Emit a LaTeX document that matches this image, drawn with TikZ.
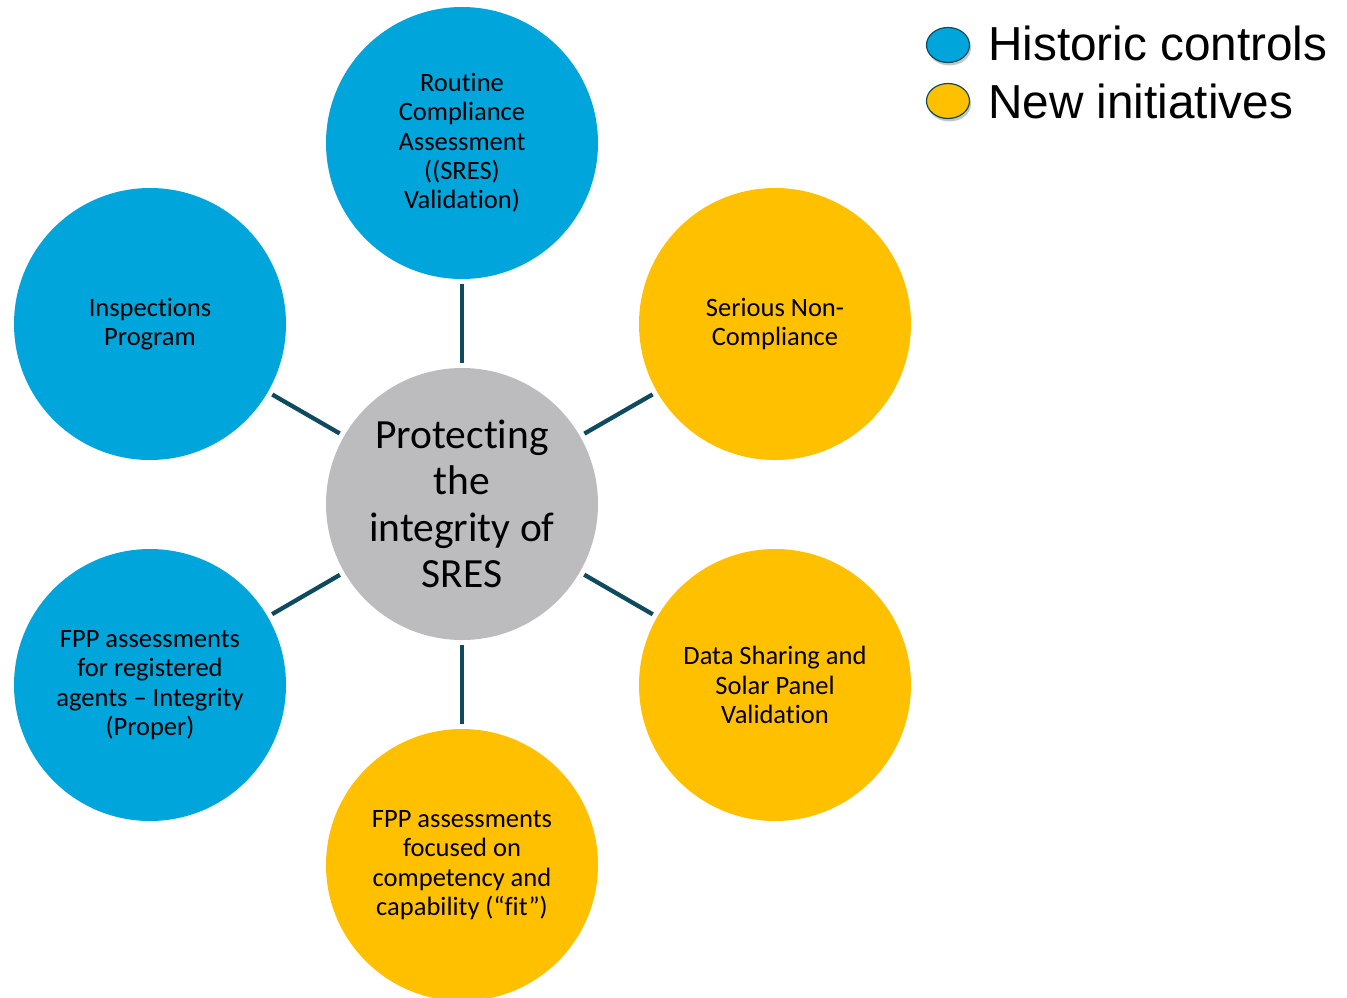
\documentclass[tikz,border=0pt]{standalone}
\usepackage{fontspec}
\setmainfont{Carlito}[Ligatures={NoCommon}]
\newfontfamily\legendfont{Liberation Sans}
\usetikzlibrary{shadows,shapes.geometric}
\definecolor{cblue}{HTML}{00A6DB}
\definecolor{cyellow}{HTML}{FFC000}
\definecolor{cgrey}{HTML}{BCBCBE}
\definecolor{cline}{HTML}{0E4B5E}
\begin{document}
\begin{tikzpicture}[x=1pt,y=-1pt,
  bubble/.style={circle,minimum size=272pt,inner sep=0pt,align=center,
    font=\fontsize{26.5}{29.3}\selectfont},
  blue/.style={bubble,fill=cblue},
  yellow/.style={bubble,fill=cyellow},
  link/.style={draw=cline,line width=4.3pt,shorten <=5pt,shorten >=5pt},
  legdot/.style={ellipse,minimum width=43pt,minimum height=35pt,draw=cline,line width=1.2pt,
    drop shadow={shadow xshift=1.5pt,shadow yshift=-3pt,fill=black!45}},
  legtext/.style={anchor=base west,inner sep=0pt,font=\legendfont\fontsize{47.7}{50}\selectfont}
]
\useasboundingbox (0,0) rectangle (1347,997);
\node[bubble,fill=cgrey,font=\fontsize{41.5}{46.5}\selectfont] (c) at (462,504) {Protecting\\the\\integrity of\\SRES};
\node[blue] (t) at (462,143) {Routine\\Compliance\\Assessment\\((SRES)\\Validation)};
\node[blue] (ul) at (150,324) {Inspections\\Program};
\node[yellow] (ur) at (775,324) {Serious Non-\\Compliance};
\node[blue] (ll) at (150,685) {FPP assessments\\for registered\\agents -- Integrity\\(Proper)};
\node[yellow] (lr) at (775,685) {Data Sharing and\\Solar Panel\\Validation};
\node[yellow] (b) at (462,865) {FPP assessments\\focused on\\competency and\\capability (“fit”)};
\foreach \n in {t,ul,ur,ll,lr,b} \draw[link] (\n) -- (c);
\node[legdot,fill=cblue] (lb) at (948,45) {};
\node[legdot,fill=cyellow] (ly) at (948,101) {};
\node[legtext] (lbt) at (988,60) {Historic controls};
\node[legtext] (lyt) at (988,118) {New initiatives};
\end{tikzpicture}
\end{document}
